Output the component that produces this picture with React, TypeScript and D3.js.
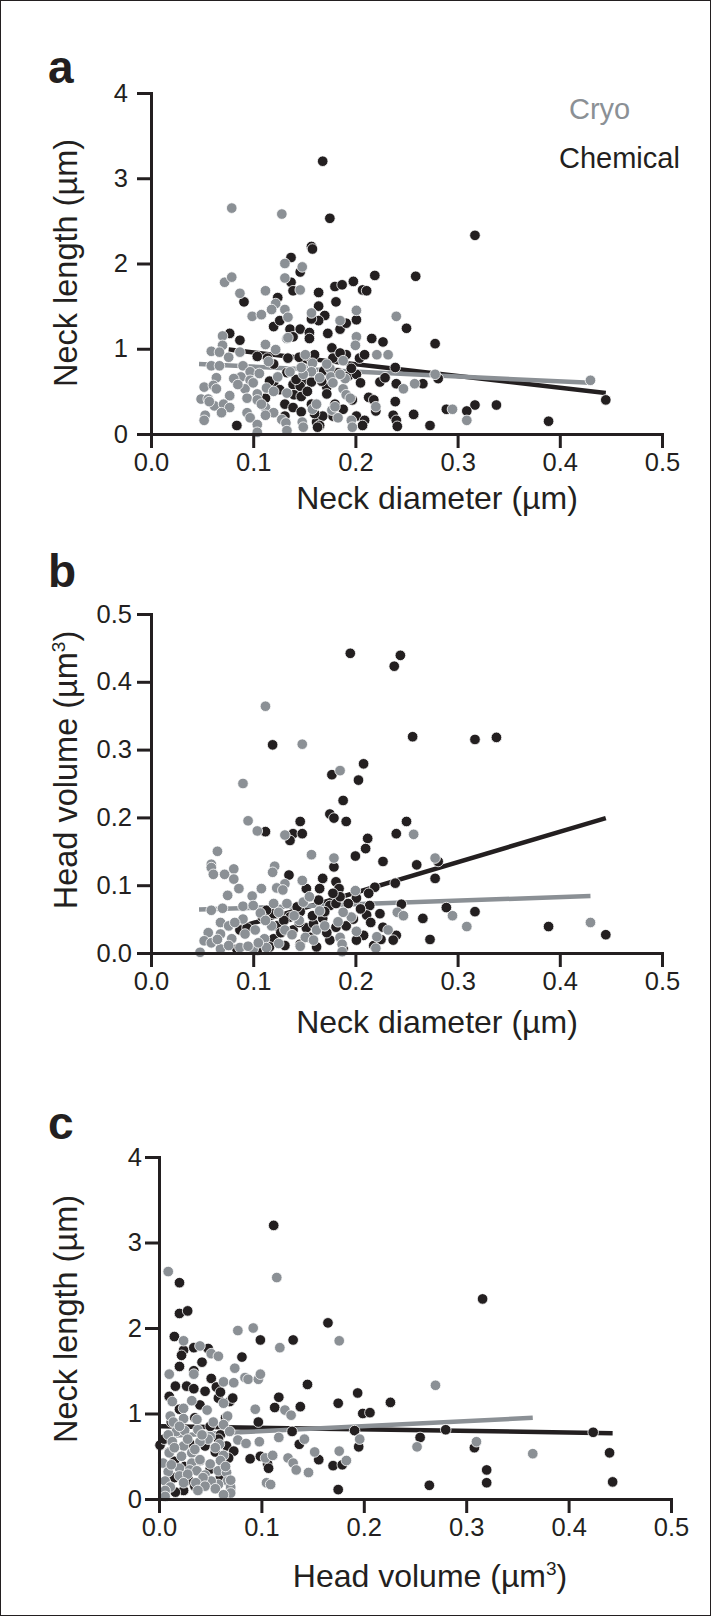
import { useRef, useEffect } from 'react'
import * as d3 from 'd3'

type Pt = [number, number]

const INK = '#231f20'
const GREY = '#8b9095'

// neck diameter vs neck length
const aChemical: Pt[] = [
  [0.168, 3.2], [0.175, 2.53], [0.157, 2.2], [0.158, 2.17], [0.137, 2.07], [0.146, 1.9], [0.137, 1.78],
  [0.139, 1.68], [0.164, 1.66], [0.18, 1.73], [0.187, 1.75], [0.198, 1.79], [0.207, 1.69], [0.211, 1.68],
  [0.219, 1.86], [0.259, 1.85], [0.091, 1.55], [0.124, 1.6], [0.181, 1.55], [0.164, 1.5], [0.17, 1.39],
  [0.164, 1.33], [0.157, 1.35], [0.12, 1.26], [0.126, 1.33], [0.136, 1.23], [0.146, 1.23], [0.155, 1.19],
  [0.139, 1.14], [0.155, 1.12], [0.173, 1.18], [0.185, 1.23], [0.191, 1.3], [0.201, 1.34], [0.077, 1.18],
  [0.087, 1.1], [0.216, 1.12], [0.227, 1.08], [0.25, 1.24], [0.278, 1.06], [0.104, 0.91], [0.134, 0.89],
  [0.12, 0.82], [0.114, 0.89], [0.149, 0.81], [0.16, 0.93], [0.177, 1.01], [0.178, 0.89], [0.191, 0.93],
  [0.204, 0.89], [0.209, 0.93], [0.239, 0.78], [0.169, 0.74], [0.177, 0.74], [0.193, 0.68], [0.201, 0.7],
  [0.149, 0.63], [0.157, 0.61], [0.133, 0.72], [0.139, 0.58], [0.146, 0.56], [0.172, 0.55], [0.172, 0.47],
  [0.12, 0.6], [0.116, 0.62], [0.14, 0.46], [0.147, 0.44], [0.224, 0.61], [0.24, 0.59], [0.266, 0.59],
  [0.281, 0.65], [0.213, 0.43], [0.218, 0.4], [0.239, 0.38], [0.112, 0.42], [0.069, 0.31], [0.131, 0.35],
  [0.139, 0.31], [0.157, 0.35], [0.18, 0.35], [0.188, 0.29], [0.201, 0.21], [0.209, 0.16], [0.22, 0.27],
  [0.237, 0.22], [0.24, 0.16], [0.257, 0.23], [0.273, 0.1], [0.162, 0.14], [0.178, 0.21], [0.131, 0.21],
  [0.147, 0.26], [0.084, 0.1], [0.168, 0.21], [0.289, 0.29], [0.317, 2.33], [0.317, 0.34], [0.309, 0.27],
  [0.338, 0.34], [0.389, 0.15], [0.445, 0.4], [0.165, 0.1], [0.207, 0.1], [0.241, 0.09], [0.163, 0.08],
  [0.142, 0.64], [0.153, 0.5], [0.167, 0.62], [0.183, 0.72], [0.196, 0.77], [0.205, 0.6], [0.126, 0.52],
  [0.16, 0.24], [0.197, 0.4], [0.229, 0.66], [0.145, 0.9], [0.185, 0.95],
]
const aCryo: Pt[] = [
  [0.079, 2.65], [0.128, 2.58], [0.131, 2.0], [0.148, 1.96], [0.131, 1.83], [0.072, 1.78], [0.079, 1.84],
  [0.087, 1.65], [0.112, 1.68], [0.146, 1.69], [0.122, 1.53], [0.118, 1.46], [0.099, 1.38], [0.108, 1.4],
  [0.131, 1.46], [0.134, 1.37], [0.157, 1.42], [0.201, 1.45], [0.185, 1.33], [0.07, 1.15], [0.07, 1.04],
  [0.059, 0.97], [0.067, 0.96], [0.076, 0.9], [0.087, 0.96], [0.112, 1.05], [0.122, 0.99], [0.133, 1.12],
  [0.151, 0.93], [0.158, 0.83], [0.188, 0.86], [0.201, 1.14], [0.2, 1.04], [0.221, 0.93], [0.232, 0.93],
  [0.059, 0.8], [0.067, 0.8], [0.09, 0.8], [0.097, 0.73], [0.106, 0.71], [0.088, 0.67], [0.081, 0.65],
  [0.097, 0.63], [0.064, 0.66], [0.124, 0.67], [0.136, 0.73], [0.149, 0.77], [0.157, 0.73], [0.175, 0.77],
  [0.176, 0.67], [0.178, 0.6], [0.188, 0.53], [0.191, 0.46], [0.052, 0.55], [0.061, 0.57], [0.077, 0.45],
  [0.092, 0.53], [0.104, 0.47], [0.113, 0.54], [0.12, 0.5], [0.133, 0.48], [0.049, 0.41], [0.056, 0.41],
  [0.062, 0.33], [0.071, 0.35], [0.077, 0.31], [0.094, 0.42], [0.104, 0.4], [0.112, 0.31], [0.12, 0.25],
  [0.053, 0.22], [0.094, 0.25], [0.097, 0.19], [0.104, 0.11], [0.112, 0.22], [0.128, 0.17], [0.132, 0.13],
  [0.148, 0.14], [0.158, 0.29], [0.162, 0.35], [0.177, 0.28], [0.18, 0.32], [0.196, 0.16], [0.22, 0.32],
  [0.247, 0.53], [0.258, 0.59], [0.24, 1.38], [0.278, 0.7], [0.295, 0.29], [0.43, 0.63], [0.309, 0.16],
  [0.134, 1.13], [0.149, 0.7], [0.147, 0.78], [0.104, 0.02], [0.133, 0.04], [0.149, 0.08], [0.197, 0.08],
  [0.052, 0.16], [0.183, 0.19], [0.064, 0.53], [0.085, 0.58], [0.1, 0.6], [0.108, 0.35], [0.069, 0.25],
  [0.057, 0.38], [0.115, 0.85], [0.165, 0.66], [0.172, 0.82], [0.19, 0.65], [0.195, 0.42], [0.185, 0.7],
]

// neck diameter vs head volume
const bChemical: Pt[] = [
  [0.195, 0.442], [0.238, 0.423], [0.244, 0.439], [0.256, 0.319], [0.119, 0.307], [0.208, 0.279],
  [0.177, 0.263], [0.203, 0.255], [0.188, 0.225], [0.175, 0.205], [0.179, 0.199], [0.191, 0.194],
  [0.146, 0.194], [0.139, 0.176], [0.148, 0.176], [0.136, 0.166], [0.112, 0.179], [0.25, 0.194],
  [0.24, 0.176], [0.212, 0.169], [0.21, 0.154], [0.2, 0.143], [0.227, 0.135], [0.26, 0.13], [0.281, 0.135],
  [0.278, 0.11], [0.179, 0.127], [0.135, 0.115], [0.168, 0.11], [0.181, 0.105], [0.152, 0.095],
  [0.184, 0.095], [0.239, 0.103], [0.219, 0.097], [0.213, 0.088], [0.164, 0.078], [0.201, 0.081],
  [0.175, 0.07], [0.214, 0.07], [0.245, 0.072], [0.289, 0.067], [0.266, 0.051], [0.224, 0.058],
  [0.211, 0.056], [0.205, 0.065], [0.168, 0.051], [0.146, 0.061], [0.136, 0.053], [0.12, 0.058],
  [0.113, 0.063], [0.087, 0.034], [0.094, 0.037], [0.123, 0.04], [0.139, 0.034], [0.152, 0.037],
  [0.156, 0.023], [0.181, 0.038], [0.191, 0.04], [0.208, 0.026], [0.227, 0.038], [0.24, 0.026],
  [0.237, 0.019], [0.273, 0.02], [0.12, 0.021], [0.131, 0.011], [0.162, 0.009], [0.175, 0.019],
  [0.201, 0.019], [0.218, 0.011], [0.104, 0.004], [0.116, 0.009], [0.084, 0.006], [0.146, 0.013],
  [0.188, 0.006], [0.159, 0.043], [0.17, 0.061], [0.181, 0.073], [0.193, 0.073], [0.143, 0.068],
  [0.13, 0.048], [0.109, 0.053], [0.317, 0.315], [0.338, 0.318], [0.317, 0.061], [0.389, 0.039],
  [0.445, 0.027], [0.127, 0.03], [0.145, 0.045], [0.158, 0.055], [0.172, 0.03], [0.185, 0.083],
  [0.198, 0.05], [0.215, 0.045], [0.225, 0.02], [0.165, 0.095], [0.178, 0.088],
]
const bCryo: Pt[] = [
  [0.112, 0.364], [0.148, 0.308], [0.185, 0.269], [0.09, 0.25], [0.095, 0.195], [0.104, 0.18],
  [0.131, 0.174], [0.257, 0.175], [0.157, 0.145], [0.179, 0.14], [0.278, 0.14], [0.065, 0.15],
  [0.059, 0.131], [0.059, 0.126], [0.061, 0.116], [0.072, 0.116], [0.081, 0.124], [0.081, 0.109],
  [0.086, 0.095], [0.121, 0.128], [0.119, 0.119], [0.131, 0.102], [0.123, 0.096], [0.129, 0.093],
  [0.148, 0.107], [0.108, 0.095], [0.099, 0.084], [0.09, 0.069], [0.059, 0.063], [0.07, 0.066],
  [0.09, 0.05], [0.107, 0.059], [0.12, 0.073], [0.133, 0.073], [0.149, 0.075], [0.155, 0.083],
  [0.2, 0.092], [0.196, 0.053], [0.188, 0.06], [0.183, 0.046], [0.241, 0.06], [0.247, 0.055],
  [0.295, 0.055], [0.068, 0.045], [0.076, 0.04], [0.056, 0.03], [0.052, 0.018], [0.059, 0.015],
  [0.068, 0.028], [0.079, 0.021], [0.068, 0.006], [0.076, 0.011], [0.087, 0.008], [0.1, 0.006],
  [0.048, 0.001], [0.092, 0.028], [0.102, 0.034], [0.111, 0.021], [0.118, 0.04], [0.113, 0.008],
  [0.131, 0.034], [0.145, 0.048], [0.151, 0.023], [0.162, 0.034], [0.159, 0.019], [0.146, 0.01],
  [0.185, 0.023], [0.187, 0.013], [0.201, 0.032], [0.221, 0.024], [0.22, 0.007], [0.232, 0.034],
  [0.187, 0.002], [0.43, 0.045], [0.309, 0.039], [0.075, 0.085], [0.1, 0.07], [0.112, 0.048],
  [0.125, 0.06], [0.14, 0.055], [0.165, 0.062], [0.17, 0.04], [0.105, 0.015], [0.125, 0.014],
  [0.138, 0.027], [0.065, 0.02], [0.082, 0.045], [0.095, 0.01],
]

// head volume vs neck length
const cChemical: Pt[] = [
  [0.112, 3.2], [0.02, 2.53], [0.02, 2.17], [0.028, 2.2], [0.165, 2.06], [0.015, 1.9], [0.099, 1.86],
  [0.131, 1.86], [0.024, 1.74], [0.034, 1.77], [0.048, 1.76], [0.022, 1.68], [0.081, 1.66], [0.02, 1.55],
  [0.034, 1.5], [0.145, 1.34], [0.016, 1.32], [0.027, 1.32], [0.034, 1.29], [0.051, 1.41], [0.056, 1.31],
  [0.045, 1.26], [0.058, 1.18], [0.069, 1.14], [0.072, 1.18], [0.117, 1.19], [0.194, 1.24], [0.226, 1.13],
  [0.175, 1.12], [0.113, 1.07], [0.138, 1.08], [0.199, 1.0], [0.206, 1.01], [0.097, 0.9], [0.13, 0.79],
  [0.191, 0.8], [0.255, 0.72], [0.28, 0.81], [0.137, 0.64], [0.066, 0.62], [0.089, 0.47], [0.099, 0.5],
  [0.073, 0.56], [0.106, 0.41], [0.107, 0.36], [0.156, 0.46], [0.17, 0.39], [0.179, 0.4], [0.195, 0.61],
  [0.064, 0.42], [0.015, 0.44], [0.02, 0.29], [0.05, 0.35], [0.029, 0.22], [0.06, 0.26], [0.001, 0.63],
  [0.264, 0.16], [0.175, 0.11], [0.024, 0.1], [0.016, 0.08], [0.316, 2.34], [0.424, 0.78], [0.44, 0.54],
  [0.443, 0.2], [0.32, 0.34], [0.32, 0.19], [0.308, 0.6], [0.005, 0.7], [0.01, 0.55], [0.03, 0.65],
  [0.04, 0.45], [0.055, 0.55], [0.06, 0.75], [0.065, 0.95], [0.035, 0.15], [0.045, 0.2], [0.015, 0.25],
  [0.07, 0.12], [0.05, 0.85], [0.02, 1.05], [0.04, 1.1], [0.06, 1.25], [0.012, 0.9], [0.025, 0.38],
  [0.045, 0.62], [0.058, 0.7], [0.068, 0.48], [0.035, 0.95], [0.01, 1.2], [0.042, 1.6],
]
const cCryo: Pt[] = [
  [0.009, 2.66], [0.115, 2.59], [0.077, 1.97], [0.092, 2.0], [0.176, 1.85], [0.118, 1.77], [0.024, 1.85],
  [0.04, 1.79], [0.051, 1.7], [0.058, 1.67], [0.01, 1.46], [0.034, 1.46], [0.074, 1.53], [0.084, 1.42],
  [0.087, 1.4], [0.097, 1.4], [0.099, 1.46], [0.063, 1.37], [0.073, 1.36], [0.013, 1.14], [0.032, 1.15],
  [0.063, 1.12], [0.024, 1.06], [0.094, 1.05], [0.123, 1.04], [0.129, 0.98], [0.27, 1.33], [0.011, 0.97],
  [0.014, 0.9], [0.024, 0.94], [0.037, 0.93], [0.047, 1.04], [0.067, 0.97], [0.063, 0.87], [0.017, 0.79],
  [0.025, 0.8], [0.038, 0.81], [0.069, 0.79], [0.009, 0.75], [0.05, 0.73], [0.048, 0.7], [0.059, 0.64],
  [0.077, 0.69], [0.085, 0.65], [0.098, 0.67], [0.117, 0.72], [0.142, 0.7], [0.196, 0.7], [0.252, 0.61],
  [0.013, 0.67], [0.024, 0.62], [0.04, 0.67], [0.01, 0.54], [0.022, 0.5], [0.032, 0.54], [0.063, 0.51],
  [0.104, 0.48], [0.111, 0.51], [0.152, 0.55], [0.176, 0.56], [0.183, 0.45], [0.126, 0.48], [0.131, 0.42],
  [0.004, 0.42], [0.009, 0.32], [0.006, 0.21], [0.02, 0.36], [0.032, 0.42], [0.04, 0.46], [0.05, 0.41],
  [0.03, 0.34], [0.02, 0.27], [0.037, 0.33], [0.045, 0.28], [0.028, 0.29], [0.058, 0.33], [0.066, 0.31],
  [0.067, 0.21], [0.07, 0.14], [0.058, 0.17], [0.051, 0.21], [0.043, 0.25], [0.036, 0.19], [0.024, 0.19],
  [0.011, 0.14], [0.006, 0.1], [0.134, 0.34], [0.146, 0.31], [0.105, 0.19], [0.109, 0.17], [0.07, 0.22],
  [0.365, 0.53], [0.31, 0.67], [0.006, 0.03], [0.07, 0.07], [0.045, 0.15], [0.015, 0.6], [0.028, 0.7],
  [0.035, 0.58], [0.042, 0.75], [0.055, 0.6], [0.06, 0.45], [0.053, 0.9], [0.02, 0.85], [0.065, 0.38],
  [0.038, 0.1], [0.055, 0.12], [0.012, 0.4], [0.063, 0.05],
]

// regression line end points
const aChemFit: Pt[] = [[0.076, 0.99], [0.445, 0.48]]
const aCryoFit: Pt[] = [[0.047, 0.82], [0.43, 0.6]]
const bChemFit: Pt[] = [[0.084, 0.037], [0.445, 0.199]]
const bCryoFit: Pt[] = [[0.047, 0.064], [0.43, 0.084]]
const cChemFit: Pt[] = [[0.002, 0.85], [0.443, 0.77]]
const cCryoFit: Pt[] = [[0.01, 0.74], [0.365, 0.95]]

const xTicks = [0, 0.1, 0.2, 0.3, 0.4, 0.5]
const lengthTicks = [0, 1, 2, 3, 4]
const volumeTicks = [0, 0.1, 0.2, 0.3, 0.4, 0.5]

const FONT = "'Liberation Sans', Arial, Helvetica, sans-serif"

function Panel({ letter, chem, cryo, chemFit, cryoFit, yMax, yTicks, yFmt, xTitle, yTitle, layout }) {
  const gRef = useRef(null)

  useEffect(() => {
    const { x0, x1, y0, y1, yPad, letterY, xTitleX, xTitleY, yTitleY } = layout
    const g = d3.select(gRef.current)
    g.selectAll('*').remove()

    const x = d3.scaleLinear().domain([0, 0.5]).range([x0, x1])
    const y = d3.scaleLinear().domain([0, yMax]).range([y0, y1])

    const styleAxis = (sel) => {
      sel.select('.domain').attr('stroke', INK).attr('stroke-width', 3).attr('stroke-linecap', 'square')
      sel.selectAll('.tick line').attr('stroke', INK).attr('stroke-width', 3)
      sel.selectAll('.tick text').attr('fill', INK).attr('font-size', 25.5).attr('font-family', FONT)
    }

    // regression lines
    const line = d3.line<Pt>().x((d) => x(d[0])).y((d) => y(d[1]))
    g.append('path').attr('d', line(chemFit)).attr('stroke', INK).attr('stroke-width', 4.5).attr('fill', 'none')
    g.append('path').attr('d', line(cryoFit)).attr('stroke', GREY).attr('stroke-width', 4.5).attr('fill', 'none')

    const drawDots = (data: Pt[], color: string) =>
      g.append('g')
        .selectAll('circle')
        .data(data)
        .join('circle')
        .attr('cx', (d) => x(d[0]))
        .attr('cy', (d) => y(d[1]))
        .attr('r', 5.3)
        .attr('fill', color)
        .attr('stroke', '#fff')
        .attr('stroke-width', 0.8)

    drawDots(chem, INK)
    drawDots(cryo, GREY)

    g.append('g')
      .attr('transform', `translate(0,${y0})`)
      .call(d3.axisBottom(x).tickValues(xTicks).tickFormat(d3.format('.1f')).tickSize(14).tickSizeOuter(0).tickPadding(5))
      .call(styleAxis)

    g.append('g')
      .attr('transform', `translate(${x0},0)`)
      .call(d3.axisLeft(y).tickValues(yTicks).tickFormat(yFmt).tickSize(14).tickSizeOuter(0).tickPadding(yPad))
      .call(styleAxis)

    g.selectAll('.domain').raise()

    g.append('text')
      .attr('x', 48)
      .attr('y', letterY)
      .attr('font-size', 46)
      .attr('font-weight', 700)
      .attr('font-family', FONT)
      .attr('fill', INK)
      .text(letter)

    const xt = g.append('text')
      .attr('x', xTitleX)
      .attr('y', xTitleY)
      .attr('text-anchor', 'middle')
      .attr('font-size', 32)
      .attr('font-family', FONT)
      .attr('fill', INK)
    xt.append('tspan').text(xTitle[0])
    if (xTitle[1]) {
      xt.append('tspan').attr('dy', -12).attr('font-size', 19).text(xTitle[1])
      xt.append('tspan').attr('dy', 12).text(xTitle[2])
    }

    const yt = g.append('text')
      .attr('transform', `translate(77,${yTitleY}) rotate(-90)`)
      .attr('text-anchor', 'middle')
      .attr('font-size', 32.5)
      .attr('font-family', FONT)
      .attr('fill', INK)
    yt.append('tspan').text(yTitle[0])
    if (yTitle[1]) {
      yt.append('tspan').attr('dy', -12).attr('font-size', 19).text(yTitle[1])
      yt.append('tspan').attr('dy', 12).text(yTitle[2])
    }
  }, [])

  return <g ref={gRef} />
}

export default function App() {
  return (
    <svg width={711} height={1616} style={{ position: 'absolute', left: 0, top: 0, display: 'block', background: '#fff' }}>
      <rect x={0.5} y={0.5} width={710} height={1615} fill="#fff" stroke={INK} strokeWidth={1} />
      <Panel
        letter="a"
        chem={aChemical}
        cryo={aCryo}
        chemFit={aChemFit}
        cryoFit={aCryoFit}
        yMax={4}
        yTicks={lengthTicks}
        yFmt={d3.format('d')}
        xTitle={['Neck diameter (µm)']}
        yTitle={['Neck length (µm)']}
        layout={{ x0: 151, x1: 662, y0: 434, y1: 93, yPad: 9, letterY: 83, xTitleX: 437, xTitleY: 509, yTitleY: 263 }}
      />
      <Panel
        letter="b"
        chem={bChemical}
        cryo={bCryo}
        chemFit={bChemFit}
        cryoFit={bCryoFit}
        yMax={0.5}
        yTicks={volumeTicks}
        yFmt={d3.format('.1f')}
        xTitle={['Neck diameter (µm)']}
        yTitle={['Head volume (µm', '3', ')']}
        layout={{ x0: 151, x1: 662, y0: 953, y1: 614, yPad: 5, letterY: 587, xTitleX: 437, xTitleY: 1033, yTitleY: 770 }}
      />
      <Panel
        letter="c"
        chem={cChemical}
        cryo={cCryo}
        chemFit={cChemFit}
        cryoFit={cCryoFit}
        yMax={4}
        yTicks={lengthTicks}
        yFmt={d3.format('d')}
        xTitle={['Head volume (µm', '3', ')']}
        yTitle={['Neck length (µm)']}
        layout={{ x0: 159, x1: 671, y0: 1499, y1: 1157, yPad: 3, letterY: 1139, xTitleX: 430, xTitleY: 1587, yTitleY: 1319 }}
      />
      <text x={569} y={119} fontSize={29} fontFamily={FONT} fill={GREY}>Cryo</text>
      <text x={559} y={168} fontSize={29} fontFamily={FONT} fill={INK}>Chemical</text>
    </svg>
  )
}
